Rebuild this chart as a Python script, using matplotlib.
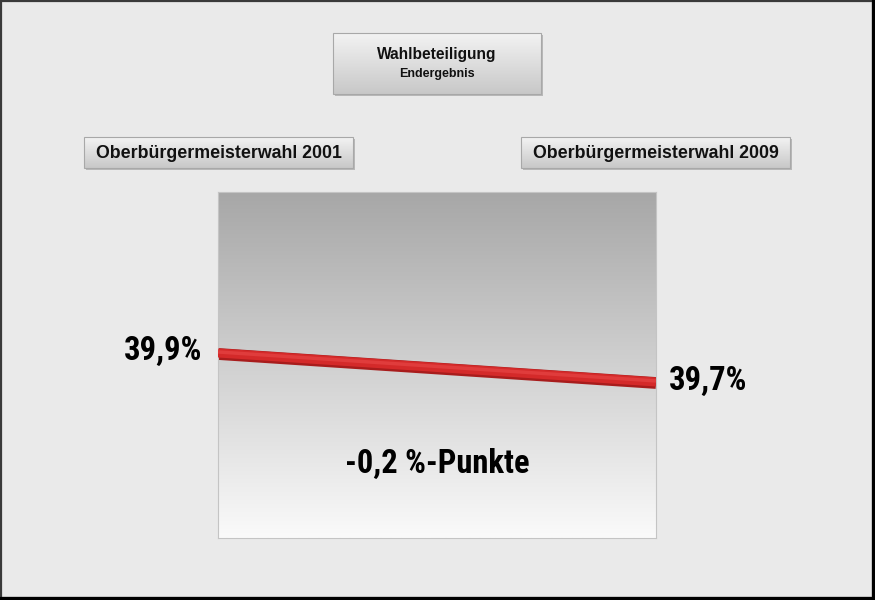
import numpy as np
import matplotlib
matplotlib.use("Agg")
import matplotlib.pyplot as plt
from matplotlib.patches import Rectangle

# ---- data ----
elections = ["Oberbürgermeisterwahl 2001", "Oberbürgermeisterwahl 2009"]
turnout = [39.9, 39.7]
value_labels = ["39,9%", "39,7%"]
diff_label = "-0,2 %-Punkte"
title = "Wahlbeteiligung"
subtitle = "Endergebnis"

FAM = ["Roboto Condensed", "DejaVu Sans"]
FAM2 = ["Liberation Sans", "DejaVu Sans"]

W, H = 875, 600
fig = plt.figure(figsize=(W / 100, H / 100), dpi=100)
fig.patch.set_facecolor("#eaeaea")

# overlay axes in pixel coords
bg = fig.add_axes([0, 0, 1, 1])
bg.set_xlim(0, W)
bg.set_ylim(H, 0)
bg.axis("off")
bg.set_zorder(0)

def grad_box(x0, y0, x1, y1, top="#f3f3f3", bottom="#c8c8c8"):
    bg.add_patch(Rectangle((x0 + 2, y0 + 2), x1 - x0, y1 - y0, facecolor="#b8b8b8",
                           edgecolor="none", zorder=1))
    g = np.linspace(0, 1, 64).reshape(-1, 1)
    c0 = np.array(matplotlib.colors.to_rgb(top))
    c1 = np.array(matplotlib.colors.to_rgb(bottom))
    img = c0[None, None, :] * (1 - g[:, :, None]) + c1[None, None, :] * g[:, :, None]
    bg.imshow(img, extent=[x0, x1, y1, y0], aspect="auto", zorder=2, interpolation="bilinear")
    bg.add_patch(Rectangle((x0, y0), x1 - x0, y1 - y0, facecolor="none",
                           edgecolor="#a8a8a8", lw=0.8, zorder=3))

# title box
grad_box(333, 33, 541, 94)
bg.text(437, 55, title, ha="center", va="center", fontsize=11.2, fontweight="bold",
        family=FAM2, color="#111111", zorder=4)
bg.text(437, 74, subtitle, ha="center", va="center", fontsize=9, fontweight="bold",
        family=FAM2, color="#111111", zorder=4)

# election boxes
grad_box(84, 137, 353, 168)
bg.text(218.5, 153, elections[0], ha="center", va="center", fontsize=12.8, fontweight="bold",
        family=FAM2, color="#111111", zorder=4)
grad_box(521, 137, 790, 168)
bg.text(655.5, 153, elections[1], ha="center", va="center", fontsize=12.8, fontweight="bold",
        family=FAM2, color="#111111", zorder=4)

# outer border
bg.add_patch(Rectangle((1, 1), W - 3.5, H - 3.5, facecolor="none", edgecolor="#3a3a3a",
                       lw=1.6, zorder=5))
bg.plot([W - 1.5, W - 1.5], [0, H], color="#000000", lw=3, zorder=5)
bg.plot([0, W], [H - 1.5, H - 1.5], color="#000000", lw=3, zorder=5)

# main plot area
x0, x1, yt, yb = 218, 656, 192, 538
ax = fig.add_axes([x0 / W, 1 - yb / H, (x1 - x0) / W, (yb - yt) / H])
ax.set_zorder(1)
ax.set_facecolor("none")
g = np.linspace(0, 1, 256).reshape(-1, 1)
ct = np.array(matplotlib.colors.to_rgb("#a7a7a7"))
cb = np.array(matplotlib.colors.to_rgb("#fafafa"))
img = ct[None, None, :] * (1 - g[:, :, None]) + cb[None, None, :] * g[:, :, None]
ax.imshow(img, extent=[0, 1, 0, 1], transform=ax.transAxes, aspect="auto", zorder=0,
          interpolation="bilinear")

xpos = [0, 1]
ax.plot(xpos, turnout, color="#a81c1c", lw=8.5, solid_capstyle="butt", zorder=2)
ax.plot(xpos, [v + 0.007 for v in turnout], color="#d42a2a", lw=6.5, solid_capstyle="butt", zorder=3)
ax.plot(xpos, [v + 0.014 for v in turnout], color="#e03c3c", lw=2.5, solid_capstyle="butt", zorder=4)
ax.set_xlim(0, 1)
ax.set_ylim(38.631, 41.017)
ax.set_xticks([])
ax.set_yticks([])
for s in ax.spines.values():
    s.set_color("#c4c4c4")
    s.set_linewidth(0.8)

ax.annotate(value_labels[0], (0, turnout[0]), xytext=(-11, 2), textcoords="offset points",
            ha="right", va="center", fontsize=23.5, fontweight="bold", family=FAM,
            color="#000000", annotation_clip=False)
ax.annotate(value_labels[1], (1, turnout[1]), xytext=(9, 1.5), textcoords="offset points",
            ha="left", va="center", fontsize=23.5, fontweight="bold", family=FAM,
            color="#000000", annotation_clip=False)
ax.text(0.5, 0.215, diff_label, transform=ax.transAxes, ha="center", va="center",
        fontsize=23.5, fontweight="bold", family=FAM, color="#000000")

fig.savefig("out.png", dpi=100, facecolor=fig.get_facecolor())
